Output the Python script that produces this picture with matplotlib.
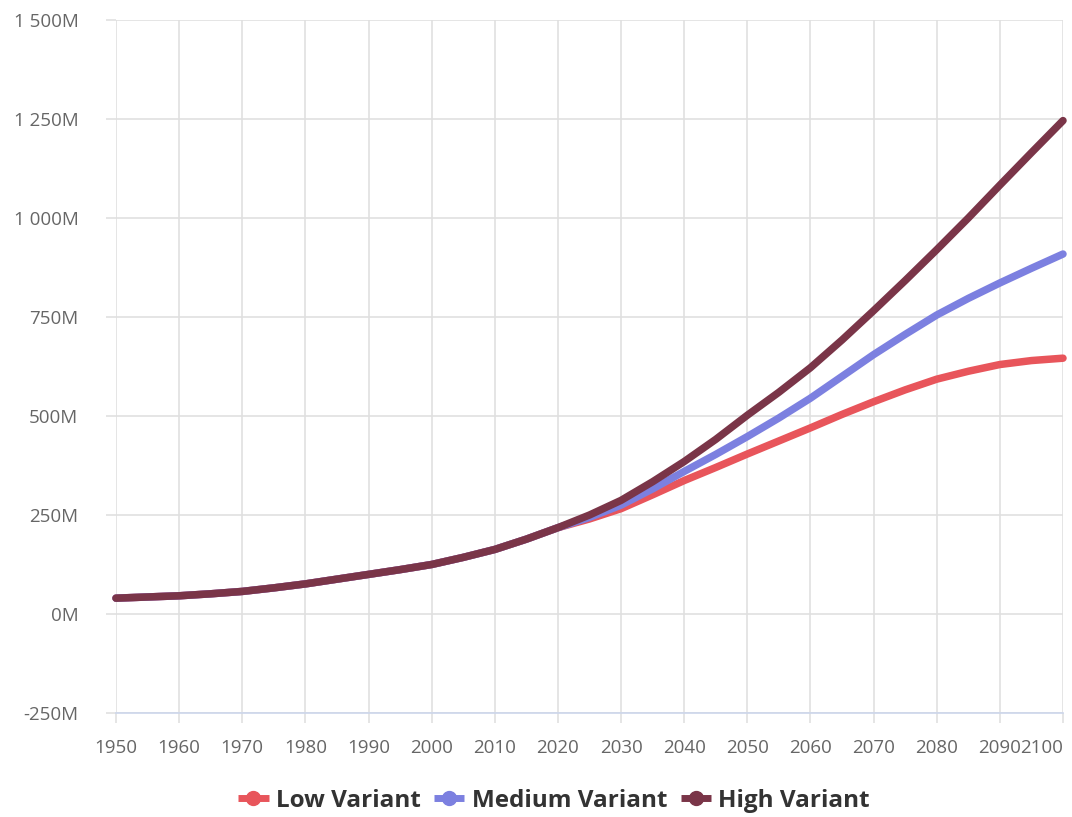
import matplotlib
matplotlib.use('Agg')
import matplotlib.pyplot as plt
from matplotlib.lines import Line2D
from matplotlib.ticker import FuncFormatter

plt.rcParams['font.family'] = ['Open Sans', 'DejaVu Sans']

# ---- data (population, millions), every 5 years ----
years = [1950, 1955, 1960, 1965, 1970, 1975, 1980, 1985, 1990, 1995,
         2000, 2005, 2010, 2015, 2020, 2025, 2030, 2035, 2040, 2045,
         2050, 2055, 2060, 2065, 2070, 2075, 2080, 2085, 2090, 2095, 2100]
history = [40, 43, 46, 51, 57, 66, 76, 88, 100, 112,
           125, 143, 163, 189, 218]
low_variant = history + [240, 266, 301, 337, 370, 404, 437, 470, 504,
                         536, 566, 593, 613, 630, 640, 646]
medium_variant = history + [244, 275, 316, 360, 403, 448, 495, 545, 600,
                            655, 706, 755, 797, 836, 873, 909]
high_variant = history + [250, 287, 334, 385, 441, 502, 560, 622, 692,
                          766, 842, 920, 1000, 1083, 1165, 1246]
series_names = ['Low Variant', 'Medium Variant', 'High Variant']
series_colors = ['#e8555b', '#7c80e0', '#7a3548']
x_ticks = list(range(1950, 2101, 10))
y_ticks = [-250, 0, 250, 500, 750, 1000, 1250, 1500]

W, H = 1072, 817
fig = plt.figure(figsize=(W / 100, H / 100), dpi=100)
ax = fig.add_axes([116 / W, 1 - 713 / H, (1063 - 116) / W, (713 - 20) / H])

for vals, name, col in zip([low_variant, medium_variant, high_variant],
                           series_names, series_colors):
    ax.plot(years, vals, color=col, lw=5.4, solid_capstyle='round',
            solid_joinstyle='round', clip_on=False, zorder=3, label=name)

ax.set_xlim(1950, 2100)
ax.set_ylim(-250, 1500)
ax.set_xticks(x_ticks)
ax.set_yticks(y_ticks)
ax.yaxis.set_major_formatter(
    FuncFormatter(lambda v, p: f"{v:,.0f}".replace(',', ' ') + 'M'))

grid_col = '#e0e0e0'
ax.grid(True, color=grid_col, lw=1.2, zorder=0)
for s in ['top', 'right', 'left']:
    ax.spines[s].set_visible(False)
ax.spines['bottom'].set_color('#ccd6eb')
ax.spines['bottom'].set_linewidth(1.2)
ax.tick_params(axis='x', length=7, color=grid_col, width=1.2,
               labelcolor='#666666', labelsize=13.5, pad=12)
ax.tick_params(axis='y', length=7, color=grid_col, width=1.2,
               labelcolor='#666666', labelsize=13.5, pad=20)

fig.canvas.draw()
labels = ax.get_xticklabels()
labels[-1].set_horizontalalignment('right')

handles = [Line2D([], [], color=c, lw=5, marker='o', markersize=10,
                  solid_capstyle='butt') for c in series_colors]
leg = fig.legend(handles, series_names, loc='center',
                 bbox_to_anchor=(554 / W, 1 - 801 / H), ncol=3,
                 frameon=False, handlelength=1.25, handletextpad=0.3,
                 columnspacing=0.55,
                 prop={'weight': 'bold', 'size': 17.5})
for t in leg.get_texts():
    t.set_color('#333333')

fig.savefig('out.png', dpi=100, facecolor='white')
